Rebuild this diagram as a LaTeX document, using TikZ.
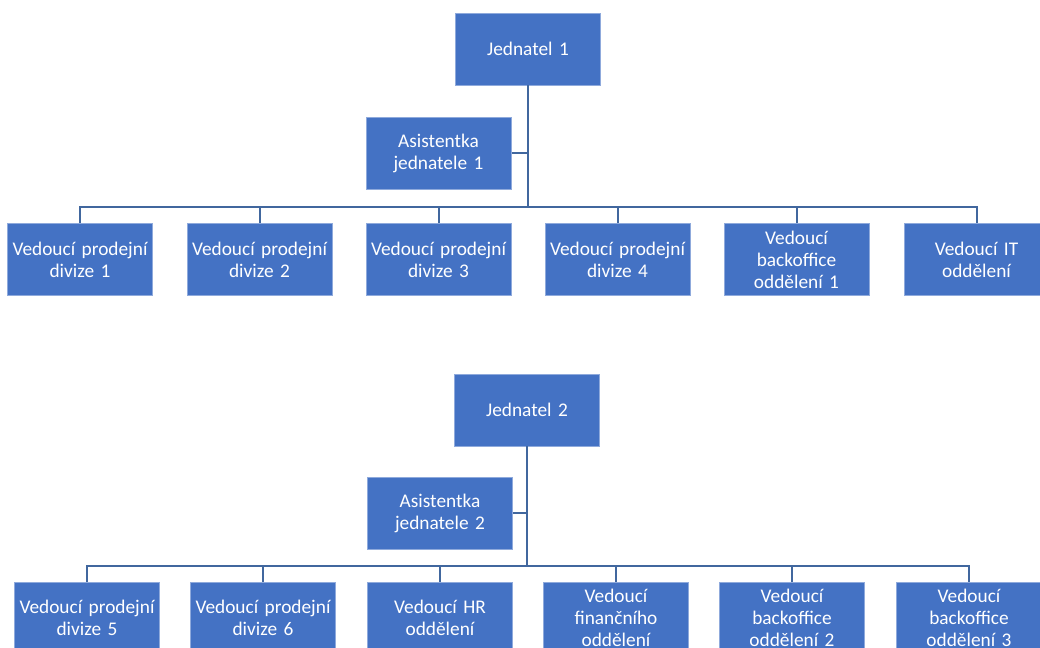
\documentclass[tikz,border=0pt]{standalone}
\usepackage{fontspec}
\setmainfont{Carlito}
\definecolor{boxblue}{HTML}{4472C4}
\definecolor{linkblue}{HTML}{41679E}
\begin{document}
\begin{tikzpicture}[x=0.75pt,y=-0.75pt,
  unit/.style={rectangle, fill=boxblue, draw=boxblue!60!white, line width=0.5pt,
    minimum width=108.75pt, minimum height=54pt, inner sep=0.5pt,
    text=white, align=center, font=\fontsize{14.5}{16.5}\selectfont, text width=108pt},
  trunk/.style={draw=linkblue, line width=2.2pt},
  link/.style={draw=linkblue, line width=1.5pt}]
\useasboundingbox (0,0) rectangle (1040,648);
% ---------- chart 1 ----------
\node[unit] (j1) at (528,49) {Jednatel 1};
\node[unit] (a1) at (438.5,153.5) {Asistentka\\jednatele 1};
\node[unit] (c11) at (80,259.5) {Vedoucí prodejní\\divize 1};
\node[unit] (c12) at (259.5,259.5) {Vedoucí prodejní\\divize 2};
\node[unit] (c13) at (438.5,259.5) {Vedoucí prodejní\\divize 3};
\node[unit] (c14) at (617.5,259.5) {Vedoucí prodejní\\divize 4};
\node[unit] (c15) at (796.5,259.5) {Vedoucí\\backoffice\\oddělení 1};
\node[unit] (c16) at (976.5,259.5) {Vedoucí IT\\oddělení};
\coordinate (b1) at (528,207);
\draw[trunk] (j1.south) -- (b1);
\draw[link] (a1.east) -- (a1.east -| j1.south);
\draw[link] (c11.north) |- (b1) -| (c16.north);
\foreach \n in {c12,c13,c14,c15} \draw[link] (\n.north) -- (\n.north |- b1);
% ---------- chart 2 ----------
\node[unit] (j2) at (527,410) {Jednatel 2};
\node[unit] (a2) at (440,513.5) {Asistentka\\jednatele 2};
\node[unit] (c21) at (87,618) {Vedoucí prodejní\\divize 5};
\node[unit] (c22) at (263,618) {Vedoucí prodejní\\divize 6};
\node[unit] (c23) at (440,618) {Vedoucí HR\\oddělení};
\node[unit] (c24) at (616,618) {Vedoucí\\finančního\\oddělení};
\node[unit] (c25) at (792,618) {Vedoucí\\backoffice\\oddělení 2};
\node[unit] (c26) at (969,618) {Vedoucí\\backoffice\\oddělení 3};
\coordinate (b2) at (527,566);
\draw[trunk] (j2.south) -- (b2);
\draw[link] (a2.east) -- (a2.east -| j2.south);
\draw[link] (c21.north) |- (b2) -| (c26.north);
\foreach \n in {c22,c23,c24,c25} \draw[link] (\n.north) -- (\n.north |- b2);
\end{tikzpicture}
\end{document}
